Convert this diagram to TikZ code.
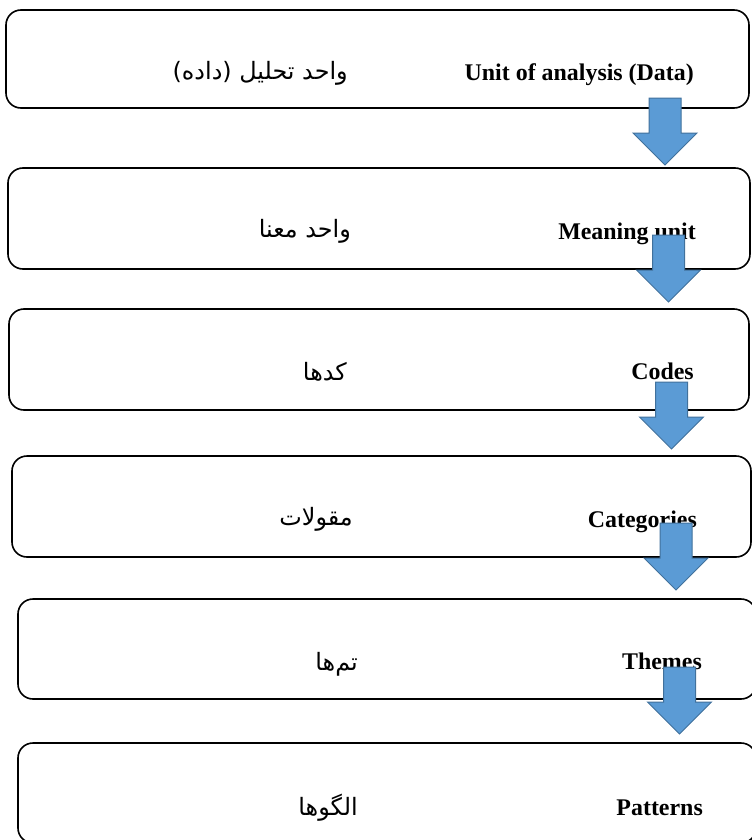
\documentclass[tikz,border=0pt]{standalone}
\usepackage{fontspec}
\setmainfont{Liberation Serif}
\newfontfamily\farsifont[Script=Arabic]{DejaVu Sans}
\TeXXeTstate=1
\usepackage{xcolor}
\usepackage{tikz}
\usetikzlibrary{positioning,calc}
\definecolor{arrowfill}{HTML}{5B9BD5}
\definecolor{arrowline}{HTML}{41719C}
\tikzset{
    stagebox/.style={draw=black, line width=1.6bp, rounded corners=15bp, inner sep=0pt, outer sep=0pt},
    entext/.style={anchor=base east, inner sep=0pt, font=\fontsize{24}{27}\selectfont\bfseries},
    fatext/.style={anchor=base east, inner sep=0pt, font=\fontsize{24}{28}\selectfont\farsifont},
    blockarrow/.style={fill=arrowfill, draw=arrowline, line width=1bp, line join=miter}
}

\begin{document}
\begin{tikzpicture}[x=1bp, y=-1bp]
    \fill [white] (0,0) rectangle (752,840);
    \useasboundingbox (0,0) rectangle (752,840);

    % stage boxes
    \node [stagebox, minimum width=743bp, minimum height=98bp]  (unit)       at (377.5, 59)  {};
    \node [stagebox, minimum width=742bp, minimum height=101bp] (meaning)    at (379, 218.5) {};
    \node [stagebox, minimum width=740bp, minimum height=101bp] (codes)      at (379, 359.5) {};
    \node [stagebox, minimum width=739bp, minimum height=101bp] (categories) at (381.5, 506.5) {};
    \node [stagebox, minimum width=738bp, minimum height=100bp] (themes)     at (387, 649)   {};
    \node [stagebox, minimum width=738bp, minimum height=100bp] (patterns)   at (387, 793)   {};

    % English labels
    \node [entext] (unitEn)       at (694, 80)  {Unit of analysis (Data)};
    \node [entext] (meaningEn)    at (696, 239) {Meaning unit};
    \node [entext] (codesEn)      at (694, 379) {Codes};
    \node [entext] (categoriesEn) at (697, 527) {Categories};
    \node [entext] (themesEn)     at (702, 669) {Themes};
    \node [entext] (patternsEn)   at (703, 815) {Patterns};

    % Persian labels
    \node [fatext] (unitFa)       at (348, 79)  {\beginR واحد تحلیل (داده)\endR};
    \node [fatext] (meaningFa)    at (351, 237) {\beginR واحد معنا\endR};
    \node [fatext] (codesFa)      at (347, 380) {\beginR کدها\endR};
    \node [fatext] (categoriesFa) at (353, 525) {\beginR مقولات\endR};
    \node [fatext] (themesFa)     at (358, 670) {\beginR تم‌ها\endR};
    \node [fatext] (patternsFa)   at (358, 815) {\beginR الگوها\endR};

    % block arrows between the stages
    \foreach \cx/\ty in {665/98, 668.5/235, 671.5/382, 676/523, 679.5/667} {
        \draw [blockarrow] (\cx-16,\ty) -- (\cx+16,\ty) -- (\cx+16,\ty+35) -- (\cx+32,\ty+35)
            -- (\cx,\ty+67) -- (\cx-32,\ty+35) -- (\cx-16,\ty+35) -- cycle;
    }
\end{tikzpicture}
\end{document}
